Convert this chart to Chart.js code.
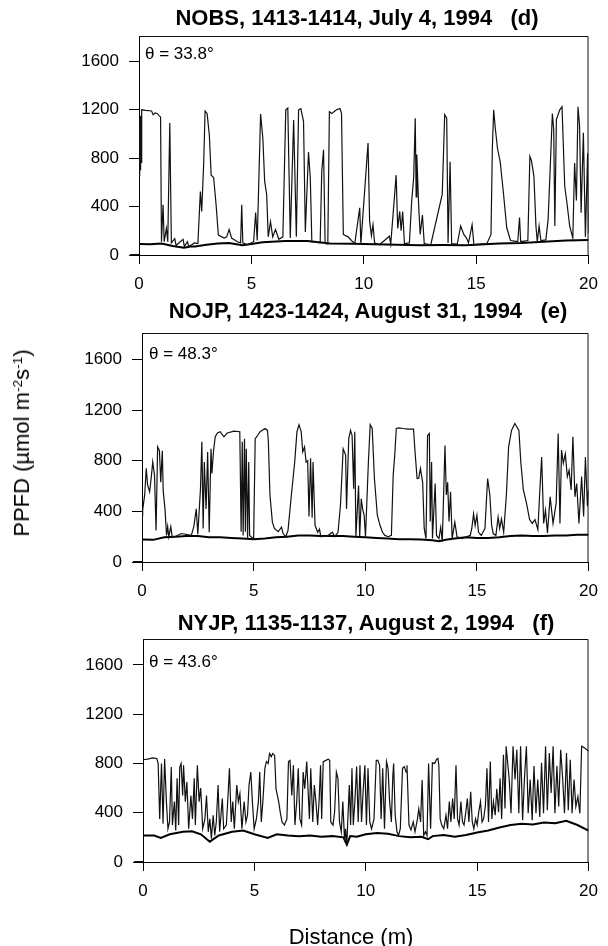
<!DOCTYPE html>
<html>
<head>
<meta charset="utf-8">
<script src="https://cdn.jsdelivr.net/npm/chart.js@4.4.1/dist/chart.umd.min.js"></script>
<style>
  body { margin: 0; background: #fff; width: 608px; height: 946px; position: relative; overflow: hidden;
         font-family: "Liberation Sans", Arial, Helvetica, sans-serif; color: #000; }
  canvas { position: absolute; left: 0; }
  .ttl { position: absolute; font-weight: bold; font-size: 22px; line-height: 1; white-space: pre; transform: translate(-50%, -50%); }
  .th { position: absolute; font-size: 17px; line-height: 1; white-space: pre; transform: translateY(-50%); }
  .yt { position: absolute; left: 22px; top: 443px; font-size: 22px; line-height: 1; white-space: pre;
        transform: translate(-50%, -50%) rotate(-90deg); }
  .xt { position: absolute; left: 351px; top: 937px; font-size: 22px; line-height: 1; white-space: pre; transform: translate(-50%, -50%); }
  sup { font-size: 0.62em; vertical-align: 0.55em; line-height: 0; }
</style>
</head>
<body>
<canvas id="chartD" width="608" height="300" style="top:0px"></canvas>
<canvas id="chartE" width="608" height="300" style="top:300px"></canvas>
<canvas id="chartF" width="608" height="346" style="top:600px"></canvas>

<div class="ttl" style="left:357px; top:18px">NOBS, 1413-1414, July 4, 1994   (d)</div>
<div class="ttl" style="left:368px; top:311px">NOJP, 1423-1424, August 31, 1994   (e)</div>
<div class="ttl" style="left:366px; top:623px">NYJP, 1135-1137, August 2, 1994   (f)</div>

<div class="th" style="left:145px; top:53px">θ = 33.8°</div>
<div class="th" style="left:149px; top:353px">θ = 48.3°</div>
<div class="th" style="left:149px; top:661px">θ = 43.6°</div>

<div class="yt">PPFD (µmol m<sup>-2</sup>s<sup>-1</sup>)</div>
<div class="xt">Distance (m)</div>

<script>
// tick values shared by the three panels
const xTicks = [0, 5, 10, 15, 20];
const yTicks = [0, 400, 800, 1200, 1600];
const yMax = 1810;

// (d) NOBS – sunfleck trace
const dDist = [
  0.00, 0.03, 0.05, 0.07, 0.09, 0.11, 0.13, 0.30, 0.56, 0.63,
  0.72, 0.80, 0.90, 0.96, 1.00, 1.07, 1.12, 1.22, 1.28, 1.37,
  1.44, 1.59, 1.65, 1.96, 2.02, 2.15, 2.22, 2.47, 2.62, 2.73,
  2.79, 2.88, 2.94, 3.03, 3.13, 3.21, 3.32, 3.43, 3.53, 3.79,
  3.90, 4.01, 4.12, 4.38, 4.52, 4.57, 4.62, 4.82, 5.10, 5.19,
  5.26, 5.41, 5.51, 5.59, 5.68, 5.75, 5.85, 5.95, 6.07, 6.22,
  6.40, 6.53, 6.62, 6.73, 6.88, 7.00, 7.10, 7.20, 7.32, 7.40,
  7.54, 7.62, 7.69, 8.06, 8.13, 8.21, 8.28, 8.40, 8.47, 8.57,
  8.79, 8.94, 9.01, 9.09, 9.30, 9.45, 9.60, 9.82, 9.87, 10.19,
  10.26, 10.34, 10.41, 10.48, 10.70, 11.14, 11.20, 11.44, 11.51, 11.60,
  11.66, 11.73, 11.81, 12.03, 12.13, 12.22, 12.29, 12.33, 12.36, 12.44,
  12.51, 12.61, 12.69, 12.98, 13.49, 13.60, 13.69, 13.75, 13.84, 13.91,
  14.16, 14.31, 14.45, 14.57, 14.66, 14.82, 14.90, 15.48, 15.66, 15.72,
  15.78, 15.85, 15.95, 16.07, 16.22, 16.36, 16.53, 16.85, 16.93, 16.98,
  17.30, 17.39, 17.46, 17.57, 17.66, 17.72, 17.80, 17.88, 18.10, 18.20,
  18.28, 18.39, 18.45, 18.50, 18.57, 18.72, 18.82, 18.94, 19.04, 19.16,
  19.30, 19.38, 19.46, 19.53, 19.60, 19.67, 19.77, 19.86, 19.96, 20.00
];
const dPpfd = [
  1080, 650, 1150, 700, 1120, 760, 1200, 1195, 1190, 1160,
  1175, 1170, 1150, 1140, 110, 415, 110, 220, 110, 1090,
  100, 135, 80, 130, 70, 110, 70, 100, 95, 525,
  360, 770, 1190, 1170, 990, 660, 640, 415, 165, 140,
  150, 210, 140, 110, 100, 415, 100, 85, 110, 350,
  120, 1165, 965, 610, 500, 150, 275, 150, 210, 130,
  150, 1200, 1215, 140, 1115, 150, 1200, 1210, 1105, 190,
  850, 640, 110, 100, 690, 870, 95, 90, 1185, 1170,
  1200, 1210, 1170, 170, 150, 120, 95, 390, 90, 925,
  280, 160, 250, 100, 85, 155, 90, 660, 220, 360,
  200, 360, 95, 100, 440, 640, 1130, 480, 830, 415,
  170, 330, 95, 85, 500, 1160, 1130, 100, 770, 95,
  90, 240, 170, 140, 100, 250, 85, 95, 170, 880,
  1200, 1050, 880, 770, 500, 225, 120, 110, 310, 110,
  120, 815, 780, 650, 240, 110, 240, 120, 125, 290,
  650, 1170, 1035, 240, 1120, 1200, 1225, 570, 430, 240,
  140, 760, 450, 1225, 1070, 350, 1010, 150, 840, 180
];
// (d) shaded baseline
const dBaseDist = [0, 0.5, 1.0, 1.5, 2.0, 2.3, 2.5, 3.0, 3.5, 4.0, 4.6, 5.0, 5.5, 6.5, 7.5, 8.5, 9.5, 10.5, 11.5, 12.5, 13.5, 14.5, 15.0, 16.0, 17.0, 18.0, 19.0, 20.0];
const dBasePpfd = [90, 88, 95, 75, 60, 70, 70, 85, 95, 100, 80, 90, 105, 115, 115, 95, 92, 88, 85, 80, 82, 80, 85, 95, 100, 110, 120, 125];

// (e) NOJP – sunfleck trace
const eDist = [
  0.00, 0.03, 0.12, 0.19, 0.25, 0.34, 0.41, 0.48, 0.56, 0.63,
  0.70, 0.78, 0.84, 0.91, 0.95, 1.03, 1.10, 1.15, 1.20, 1.29,
  1.35, 1.47, 1.76, 2.21, 2.32, 2.43, 2.50, 2.62, 2.68, 2.74,
  2.79, 2.87, 2.94, 3.01, 3.09, 3.13, 3.20, 3.28, 3.38, 3.50,
  3.67, 3.82, 4.12, 4.38, 4.44, 4.49, 4.53, 4.59, 4.63, 4.67,
  4.73, 4.78, 4.82, 4.88, 5.00, 5.07, 5.14, 5.29, 5.51, 5.62,
  5.66, 5.73, 5.84, 5.93, 6.10, 6.25, 6.32, 6.44, 6.54, 6.69,
  6.84, 6.94, 7.03, 7.13, 7.20, 7.28, 7.35, 7.42, 7.48, 7.55,
  7.62, 7.66, 7.75, 7.87, 7.95, 8.01, 8.30, 8.53, 8.63, 8.78,
  8.89, 9.01, 9.12, 9.16, 9.26, 9.34, 9.41, 9.48, 9.53, 9.58,
  9.70, 9.75, 9.82, 9.88, 9.95, 10.01, 10.14, 10.22, 10.31, 10.41,
  10.54, 10.66, 10.77, 10.88, 11.03, 11.17, 11.25, 11.32, 11.39, 11.51,
  11.69, 11.91, 12.16, 12.23, 12.32, 12.39, 12.47, 12.57, 12.64, 12.72,
  12.79, 12.87, 12.91, 12.97, 13.01, 13.13, 13.19, 13.30, 13.38, 13.45,
  13.57, 13.63, 13.69, 13.75, 13.82, 13.89, 14.01, 14.11, 14.33, 14.70,
  14.77, 14.85, 14.92, 15.00, 15.07, 15.19, 15.36, 15.48, 15.58, 15.66,
  15.73, 15.85, 15.95, 16.02, 16.10, 16.20, 16.32, 16.42, 16.55, 16.70,
  16.88, 16.97, 17.08, 17.22, 17.36, 17.48, 17.60, 17.73, 17.82, 17.90,
  17.99, 18.07, 18.16, 18.28, 18.41, 18.55, 18.64, 18.72, 18.79, 18.87,
  18.96, 19.05, 19.13, 19.22, 19.30, 19.39, 19.47, 19.57, 19.69, 19.78,
  19.86, 19.95, 20.00
];
const ePpfd = [
  370, 410, 530, 740, 610, 555, 660, 790, 685, 250,
  910, 880, 630, 880, 560, 420, 210, 280, 200, 280,
  200, 200, 225, 210, 280, 420, 220, 580, 950, 265,
  790, 420, 870, 235, 895, 700, 870, 990, 1020, 1030,
  990, 1020, 1035, 1030, 240, 950, 210, 975, 240, 895,
  185, 790, 210, 200, 185, 975, 990, 1030, 1055, 1040,
  950, 530, 315, 265, 240, 275, 225, 200, 250, 530,
  790, 1030, 1085, 1030, 870, 910, 790, 800, 360, 820,
  350, 790, 290, 235, 260, 200, 205, 235, 200, 235,
  450, 895, 845, 420, 975, 1040, 1000, 580, 1030, 200,
  605, 200, 500, 420, 370, 200, 790, 1085, 1055, 660,
  370, 290, 235, 210, 200, 210, 685, 845, 1055, 1060,
  1055, 1050, 1050, 870, 660, 660, 740, 630, 265, 185,
  1000, 1015, 320, 790, 185, 620, 210, 185, 275, 160,
  920, 530, 630, 320, 555, 185, 315, 200, 185, 210,
  265, 380, 290, 370, 237, 210, 265, 660, 530, 290,
  225, 210, 355, 265, 340, 235, 530, 910, 1040, 1095,
  1040, 780, 570, 465, 335, 305, 335, 255, 570, 830,
  305, 410, 230, 515, 305, 465, 1015, 305, 885, 780,
  855, 675, 725, 570, 990, 515, 620, 305, 675, 360,
  830, 440, 570
];
const eBaseDist = [0, 0.5, 1.0, 1.5, 2.0, 2.5, 3.0, 3.5, 4.0, 4.5, 5.0, 5.5, 6.0, 6.5, 7.0, 7.5, 8.0, 8.5, 9.0, 9.5, 10.0,
  10.5, 11.0, 11.5, 12.0, 12.5, 13.0, 13.3, 13.6, 14.0, 14.5, 15.0, 15.5, 16.0, 16.5, 17.0, 17.5, 18.0, 18.5, 19.0, 19.5, 20.0];
const eBasePpfd = [178, 175, 195, 200, 205, 205, 195, 195, 190, 185, 180, 185, 195, 200, 210, 210, 205, 205, 205, 200, 195,
  190, 185, 180, 180, 178, 172, 165, 175, 185, 195, 190, 190, 195, 205, 210, 205, 205, 210, 210, 215, 215];

// (f) NYJP – sunfleck trace
const fDist = [
  0.00, 0.21, 0.43, 0.62, 0.68, 0.75, 0.83, 0.90, 0.97, 1.05,
  1.12, 1.19, 1.27, 1.32, 1.41, 1.47, 1.53, 1.60, 1.65, 1.71,
  1.78, 1.82, 1.90, 1.97, 2.05, 2.15, 2.22, 2.30, 2.35, 2.44,
  2.52, 2.59, 2.68, 2.78, 2.85, 2.93, 3.00, 3.07, 3.15, 3.22,
  3.29, 3.37, 3.44, 3.56, 3.62, 3.74, 3.81, 3.88, 3.96, 4.03,
  4.10, 4.21, 4.28, 4.35, 4.44, 4.54, 4.62, 4.69, 4.76, 4.84,
  4.91, 4.99, 5.09, 5.18, 5.24, 5.31, 5.38, 5.47, 5.54, 5.62,
  5.68, 5.76, 5.82, 5.91, 5.97, 6.09, 6.16, 6.24, 6.35, 6.46,
  6.53, 6.60, 6.68, 6.75, 6.82, 6.90, 6.97, 7.04, 7.12, 7.19,
  7.26, 7.35, 7.47, 7.53, 7.62, 7.69, 7.76, 7.84, 7.91, 7.97,
  8.02, 8.09, 8.21, 8.31, 8.38, 8.43, 8.53, 8.60, 8.68, 8.75,
  8.82, 8.90, 8.97, 9.05, 9.09, 9.15, 9.19, 9.26, 9.32, 9.38,
  9.44, 9.51, 9.59, 9.66, 9.74, 9.81, 9.88, 9.96, 10.03, 10.10,
  10.18, 10.26, 10.37, 10.47, 10.54, 10.62, 10.69, 10.76, 10.84, 10.93,
  11.00, 11.07, 11.15, 11.21, 11.25, 11.32, 11.40, 11.47, 11.55, 11.65,
  11.73, 11.81, 11.85, 11.94, 12.03, 12.13, 12.21, 12.32, 12.38, 12.46,
  12.53, 12.60, 12.68, 12.75, 12.82, 12.91, 12.99, 13.09, 13.18, 13.24,
  13.28, 13.34, 13.41, 13.50, 13.60, 13.67, 13.75, 13.82, 13.90, 13.97,
  14.05, 14.12, 14.19, 14.27, 14.34, 14.41, 14.49, 14.56, 14.63, 14.71,
  14.78, 14.85, 14.93, 15.00, 15.07, 15.15, 15.22, 15.29, 15.37, 15.44,
  15.51, 15.59, 15.66, 15.73, 15.81, 15.88, 15.96, 16.03, 16.10, 16.18,
  16.25, 16.30, 16.44, 16.52, 16.61, 16.70, 16.78, 16.87, 16.95, 17.04,
  17.12, 17.21, 17.29, 17.38, 17.47, 17.55, 17.64, 17.72, 17.81, 17.89,
  17.98, 18.07, 18.15, 18.24, 18.32, 18.41, 18.49, 18.58, 18.66, 18.75,
  18.84, 18.92, 19.01, 19.09, 19.18, 19.26, 19.35, 19.43, 19.52, 19.61,
  19.69, 19.83, 20.00
];
const fPpfd = [
  830, 835, 845, 840, 800, 350, 800, 310, 835, 490,
  270, 325, 770, 300, 490, 255, 680, 300, 770, 800,
  540, 785, 490, 650, 270, 540, 350, 680, 300, 785,
  490, 600, 270, 350, 540, 245, 350, 190, 380, 215,
  325, 625, 245, 515, 270, 300, 515, 760, 325, 490,
  270, 625, 490, 555, 270, 490, 325, 380, 625, 730,
  490, 270, 350, 490, 730, 325, 490, 760, 815, 800,
  880, 855, 880, 865, 595, 490, 405, 325, 300, 350,
  815, 825, 540, 785, 300, 490, 760, 350, 300, 730,
  595, 815, 350, 760, 325, 625, 490, 300, 515, 785,
  350, 815, 825, 835, 825, 325, 300, 405, 730, 680,
  325, 245, 490, 165, 270, 135, 325, 625, 300, 760,
  300, 490, 775, 325, 785, 325, 570, 785, 300, 760,
  325, 270, 350, 825, 825, 785, 350, 760, 270, 815,
  760, 490, 325, 680, 800, 380, 245, 215, 270, 760,
  775, 730, 785, 300, 260, 325, 245, 350, 430, 325,
  665, 215, 245, 215, 800, 270, 805, 800, 835, 840,
  785, 350, 300, 270, 380, 270, 490, 325, 515, 350,
  785, 350, 300, 490, 325, 300, 405, 515, 325, 570,
  325, 270, 350, 300, 405, 490, 325, 350, 460, 760,
  325, 815, 350, 490, 380, 595, 405, 680, 350, 870,
  435, 940, 670, 395, 940, 670, 910, 395, 940, 340,
  670, 940, 395, 670, 340, 780, 395, 670, 365, 805,
  395, 940, 420, 885, 560, 940, 395, 780, 450, 910,
  670, 395, 885, 420, 830, 395, 670, 450, 530, 395,
  940, 925, 900
];
const fBaseDist = [0, 0.5, 0.8, 1.2, 1.8, 2.2, 2.6, 3.0, 3.4, 4.0, 4.5, 5.0, 5.6, 6.0, 6.5, 7.0, 7.5, 8.0, 8.5, 9.0, 9.15, 9.3, 9.6,
  10.0, 10.5, 11.0, 11.5, 12.0, 12.5, 12.8, 13.0, 13.5, 14.0, 14.5, 15.0, 15.5, 16.0, 16.5, 17.0, 17.5, 18.0, 18.5, 19.0, 19.5, 20.0];
const fBasePpfd = [215, 215, 195, 225, 245, 250, 225, 165, 215, 245, 255, 225, 195, 225, 215, 210, 215, 205, 210, 200, 140, 210, 205,
  225, 235, 230, 210, 200, 205, 185, 210, 220, 205, 220, 240, 255, 280, 300, 310, 305, 320, 315, 335, 300, 255];

function toPoints(xs, ys) {
  return xs.map((x, i) => ({ x: x, y: ys[i] }));
}

// top + right edges of the box, and the little stub of x axis left of 0
const boxPlugin = {
  id: 'box',
  afterDraw(chart) {
    const a = chart.chartArea;
    const ctx = chart.ctx;
    ctx.save();
    ctx.strokeStyle = '#111';
    ctx.lineWidth = 1;
    ctx.beginPath();
    ctx.moveTo(a.left, a.top + 0.5);
    ctx.lineTo(a.right - 0.5, a.top + 0.5);
    ctx.lineTo(a.right - 0.5, a.bottom);
    ctx.moveTo(a.left - 9, a.bottom - 0.5);
    ctx.lineTo(a.left, a.bottom - 0.5);
    ctx.stroke();
    ctx.restore();
  }
};

const tickFont = { family: '"Liberation Sans", Arial, sans-serif', size: 17 };

function makePanel(id, g, upX, upY, baseX, baseY) {
  const ctx = document.getElementById(id).getContext('2d');
  return new Chart(ctx, {
    type: 'line',
    data: {
      datasets: [
        { data: toPoints(upX, upY), borderColor: '#111', borderWidth: 1.2, pointRadius: 0, tension: 0 },
        { data: toPoints(baseX, baseY), borderColor: '#000', borderWidth: 2, pointRadius: 0, tension: 0 }
      ]
    },
    options: {
      responsive: false,
      animation: false,
      events: [],
      layout: { padding: { left: 0, right: 608 - g.right, top: g.top, bottom: 0 } },
      plugins: { legend: { display: false }, tooltip: { enabled: false } },
      scales: {
        x: {
          type: 'linear', min: 0, max: 20,
          afterBuildTicks: s => { s.ticks = xTicks.map(v => ({ value: v })); },
          afterFit: s => { s.height = g.xh; },
          grid: { drawOnChartArea: false, tickLength: 9, color: '#000' },
          border: { color: '#000', width: 1 },
          ticks: { color: '#000', padding: 10, maxRotation: 0, font: tickFont, callback: v => String(v) }
        },
        y: {
          min: 0, max: yMax,
          afterBuildTicks: s => { s.ticks = yTicks.map(v => ({ value: v })); },
          afterFit: s => { s.width = g.left; },
          grid: { drawOnChartArea: false, tickLength: 10, color: '#000' },
          border: { color: '#000', width: 1 },
          ticks: { color: '#000', padding: 10, font: tickFont, callback: v => String(v) }
        }
      }
    },
    plugins: [boxPlugin]
  });
}

makePanel('chartD', { top: 36, left: 139, right: 593, xh: 45 }, dDist, dPpfd, dBaseDist, dBasePpfd);
makePanel('chartE', { top: 33, left: 142, right: 595, xh: 38 }, eDist, ePpfd, eBaseDist, eBasePpfd);
makePanel('chartF', { top: 39, left: 143, right: 597, xh: 84 }, fDist, fPpfd, fBaseDist, fBasePpfd);
</script>
</body>
</html>
